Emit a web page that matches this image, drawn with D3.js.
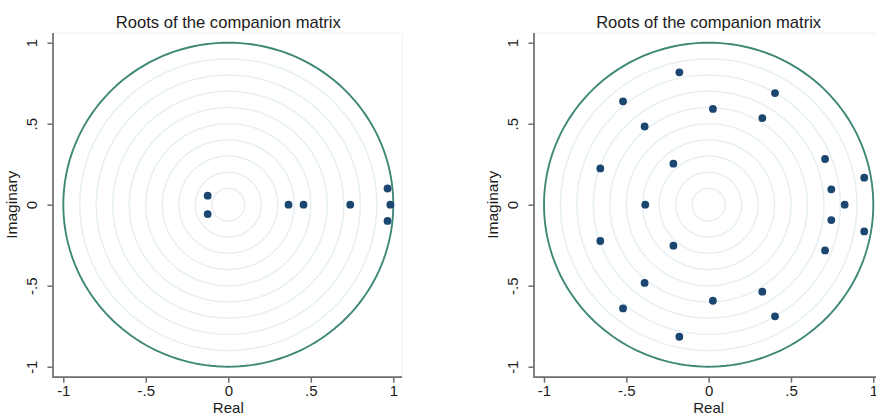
<!DOCTYPE html>
<html>
<head>
<meta charset="utf-8">
<script src="https://cdn.jsdelivr.net/npm/d3@7"></script>
<style>
  html, body { margin: 0; padding: 0; background: #fff; }
  svg { display: block; font-family: "Liberation Sans", Arial, sans-serif; }
</style>
</head>
<body>
<svg id="chart" width="876" height="416"></svg>
<script>
// Eigenvalues of the companion matrix (real and imaginary parts), two models
const leftReal = [-0.125, -0.125, 0.365, 0.456, 0.739, 0.965, 0.965, 0.982];
const leftImag = [0.056, -0.058, 0, 0, 0, 0.100, -0.100, 0];

const rightReal = [-0.178, -0.178, -0.520, -0.520, 0.403, 0.403, 0.026, 0.026,
                   0.326, 0.326, -0.389, -0.389, -0.658, -0.658, -0.214, -0.214,
                   0.707, 0.707, 0.945, 0.945, 0.745, 0.745, -0.385, 0.826];
const rightImag = [0.817, -0.815, 0.638, -0.640, 0.689, -0.689, 0.591, -0.593,
                   0.535, -0.537, 0.483, -0.483, 0.224, -0.224, 0.253, -0.253,
                   0.282, -0.282, 0.167, -0.165, 0.095, -0.095, 0, 0];

const tickValues = [-1, -0.5, 0, 0.5, 1];
const tickLabels = ["-1", "-.5", "0", ".5", "1"];
const gridRadii = [0.1, 0.2, 0.3, 0.4, 0.5, 0.6, 0.7, 0.8, 0.9];
const titleText = "Roots of the companion matrix";
const xLabel = "Real";
const yLabel = "Imaginary";

const svg = d3.select("#chart");
const fmt = v => tickLabels[tickValues.indexOf(v)];

function panel(cfg, re, im) {
  const g = svg.append("g");
  const x = d3.scaleLinear().domain([-1, 1]).range([cfg.x0, cfg.x1]);
  const y = d3.scaleLinear().domain([-1, 1]).range([366.7, 42.7]);

  // plot region (faint frame)
  g.append("rect")
    .attr("x", cfg.axisX).attr("y", 33)
    .attr("width", cfg.regionRight - cfg.axisX).attr("height", 376.7 - 33)
    .attr("fill", "#fff").attr("stroke", "#eef3f5").attr("stroke-width", 1);

  // concentric modulus circles
  const circ = r => {
    const pts = d3.range(0, 361, 2).map(a => {
      const t = a * Math.PI / 180;
      return [x(r * Math.cos(t)), y(r * Math.sin(t))];
    });
    return d3.line()(pts) + "Z";
  };
  g.selectAll("path.grid").data(gridRadii).join("path")
    .attr("class", "grid")
    .attr("d", circ)
    .attr("fill", "none").attr("stroke", "#e6f0f3").attr("stroke-width", 1.5);

  // unit circle
  g.append("path").attr("d", circ(1))
    .attr("fill", "none").attr("stroke", "#3f8878").attr("stroke-width", 1.9);

  // roots
  g.selectAll("circle.root").data(re.map((r, i) => [r, im[i]])).join("circle")
    .attr("class", "root")
    .attr("cx", d => x(d[0])).attr("cy", d => y(d[1]))
    .attr("r", 3.9).attr("fill", "#1a4670");

  // axes
  const xAxis = d3.axisBottom(x).tickValues(tickValues).tickFormat(fmt).tickSizeOuter(0).tickSize(5).tickPadding(3);
  const gx = g.append("g").attr("transform", `translate(0,${376.7 + 1})`).call(xAxis);
  gx.select(".domain").remove();
  g.append("line")
    .attr("x1", cfg.axisX).attr("x2", cfg.regionRight)
    .attr("y1", 377.2).attr("y2", 377.2)
    .attr("stroke", "#6e6e6e").attr("stroke-width", 1.7);

  const yAxis = d3.axisLeft(y).tickValues(tickValues).tickFormat(fmt).tickSizeOuter(0).tickSize(5).tickPadding(4);
  const gy = g.append("g").attr("transform", `translate(${cfg.axisX - 1},0)`).call(yAxis);
  gy.select(".domain").remove();
  g.append("line")
    .attr("x1", cfg.axisX - 0.5).attr("x2", cfg.axisX - 0.5)
    .attr("y1", 33).attr("y2", 378)
    .attr("stroke", "#6e6e6e").attr("stroke-width", 1.7);

  [gx, gy].forEach(a => {
    a.selectAll(".tick line").attr("stroke", "#6e6e6e").attr("stroke-width", 1.5);
    a.selectAll(".tick text").attr("fill", "#1c1c1c").style("font-size", "15px")
      .style("font-family", "'Liberation Sans', Arial, sans-serif");
  });
  // vertical tick labels, as in Stata
  gy.selectAll(".tick text")
    .attr("text-anchor", "middle")
    .attr("x", 0).attr("dy", 0)
    .attr("transform", "translate(-16,0) rotate(-90)");

  // titles
  g.append("text")
    .attr("x", x(0)).attr("y", 27.5)
    .attr("text-anchor", "middle").attr("fill", "#1c1c1c")
    .style("font-size", "16.6px").text(titleText);
  g.append("text")
    .attr("x", x(0)).attr("y", 413)
    .attr("text-anchor", "middle").attr("fill", "#1c1c1c")
    .style("font-size", "15px").text(xLabel);
  g.append("text")
    .attr("transform", `translate(${cfg.axisX - 37},${y(0)}) rotate(-90)`)
    .attr("text-anchor", "middle").attr("fill", "#1c1c1c")
    .style("font-size", "15.5px").text(yLabel);
}

panel({ x0: 63.3, x1: 393.3, axisX: 53.5, regionRight: 402 }, leftReal, leftImag);
panel({ x0: 544, x1: 873.3, axisX: 534.5, regionRight: 883 }, rightReal, rightImag);
</script>
</body>
</html>
